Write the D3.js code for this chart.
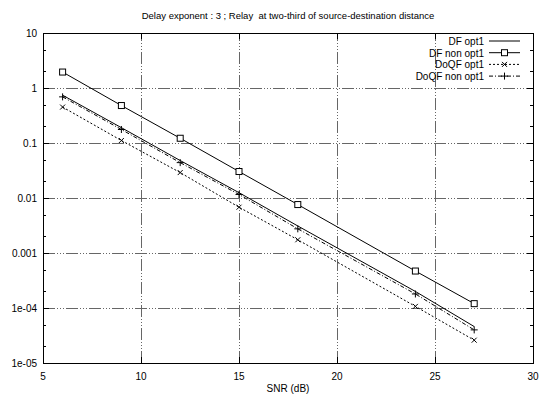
<!DOCTYPE html>
<html>
<head>
<meta charset="utf-8">
<script src="https://cdn.jsdelivr.net/npm/d3@7"></script>
<style>
  body { margin: 0; background: #fff; }
  text { font-family: "Liberation Sans", Arial, sans-serif; fill: #000; }
</style>
</head>
<body>
<div id="chart"></div>
<script>
// values
const snr = [6, 9, 12, 15, 18, 24, 27];
const dfOpt = [0.74, 0.19, 0.048, 0.0125, 0.0031, 0.0002, 0.000046];
const dfNonOpt = [1.95, 0.48, 0.122, 0.0303, 0.0076, 0.00047, 0.00012];
const doqfOpt = [0.45, 0.111, 0.029, 0.0068, 0.00174, 0.000107, 0.000026];
const doqfNonOpt = [0.69, 0.176, 0.044, 0.0116, 0.00275, 0.00018, 0.00004];

const xTicks = [5, 10, 15, 20, 25, 30];
const yTicks = [10, 1, 0.1, 0.01, 0.001, 1e-4, 1e-5];
const yTickLabels = ['10', '1', '0.1', '0.01', '0.001', '1e-04', '1e-05'];
const seriesNames = ['DF opt1', 'DF non opt1', 'DoQF opt1', 'DoQF non opt1'];

const width = 540;
const height = 397;
const margin = { top: 33, right: 7, bottom: 34, left: 43 };

const series = [
  { name: seriesNames[0], values: dfOpt, dash: null, marker: null },
  { name: seriesNames[1], values: dfNonOpt, dash: null, marker: 'square' },
  { name: seriesNames[2], values: doqfOpt, dash: '2,2', marker: 'cross' },
  { name: seriesNames[3], values: doqfNonOpt, dash: '4,2,1,2', marker: 'plus' }
];

const svg = d3.select('#chart').append('svg')
  .attr('width', width)
  .attr('height', height);

const x = d3.scaleLinear()
  .domain([5, 30])
  .range([margin.left, width - margin.right]);

const y = d3.scaleLog()
  .domain([1e-5, 10])
  .range([height - margin.bottom, margin.top]);

const x0 = margin.left;
const x1 = width - margin.right;
const y0 = height - margin.bottom;
const y1 = margin.top;

// grid
const gridDash = '12,2,1,2,1,2,1,2';
svg.append('g').selectAll('line')
  .data(yTicks.slice(1, -1))
  .enter()
  .append('line')
  .attr('x1', x0).attr('x2', x1)
  .attr('y1', d => Math.round(y(d)) + 0.5).attr('y2', d => Math.round(y(d)) + 0.5)
  .attr('stroke', '#666')
  .attr('stroke-width', 1)
  .attr('stroke-dasharray', gridDash);

svg.append('g').selectAll('line')
  .data(xTicks.slice(1, -1))
  .enter()
  .append('line')
  .attr('x1', d => Math.round(x(d)) + 0.5).attr('x2', d => Math.round(x(d)) + 0.5)
  .attr('y1', y0).attr('y2', y1)
  .attr('stroke', '#666')
  .attr('stroke-width', 1)
  .attr('stroke-dasharray', gridDash);

// minor ticks on y (2 and 5 of each decade), both sides
const minorTicks = [];
for (let e = -5; e < 1; e++) {
  minorTicks.push(2 * Math.pow(10, e));
  minorTicks.push(5 * Math.pow(10, e));
}
const ticksG = svg.append('g').attr('stroke', '#000').attr('stroke-width', 1);
minorTicks.forEach((t) => {
  const yy = Math.round(y(t)) + 0.5;
  ticksG.append('line').attr('x1', x0).attr('x2', x0 + 3).attr('y1', yy).attr('y2', yy);
  ticksG.append('line').attr('x1', x1).attr('x2', x1 - 3).attr('y1', yy).attr('y2', yy);
});
yTicks.forEach((t) => {
  const yy = Math.round(y(t)) + 0.5;
  ticksG.append('line').attr('x1', x0).attr('x2', x0 + 6).attr('y1', yy).attr('y2', yy);
  ticksG.append('line').attr('x1', x1).attr('x2', x1 - 6).attr('y1', yy).attr('y2', yy);
});
xTicks.forEach((t) => {
  const xx = Math.round(x(t)) + 0.5;
  ticksG.append('line').attr('x1', xx).attr('x2', xx).attr('y1', y0).attr('y2', y0 - 6);
  ticksG.append('line').attr('x1', xx).attr('x2', xx).attr('y1', y1).attr('y2', y1 + 6);
});

// frame
svg.append('rect')
  .attr('x', x0 + 0.5).attr('y', y1 + 0.5)
  .attr('width', x1 - x0).attr('height', y0 - y1)
  .attr('fill', 'none')
  .attr('stroke', '#000')
  .attr('stroke-width', 1);

// tick labels
svg.append('g').selectAll('text')
  .data(yTicks)
  .enter()
  .append('text')
  .attr('x', 37)
  .attr('y', d => y(d) + 4)
  .attr('text-anchor', 'end')
  .style('font-size', '10px')
  .text((d, i) => yTickLabels[i]);

svg.append('g').selectAll('text')
  .data(xTicks)
  .enter()
  .append('text')
  .attr('x', d => x(d))
  .attr('y', y0 + 17)
  .attr('text-anchor', 'middle')
  .style('font-size', '10px')
  .text(d => d);

svg.append('text')
  .attr('x', (x0 + x1) / 2)
  .attr('y', height - 5)
  .attr('text-anchor', 'middle')
  .style('font-size', '10px')
  .text('SNR (dB)');

svg.append('text')
  .attr('x', (x0 + x1) / 2)
  .attr('y', 19)
  .attr('text-anchor', 'middle')
  .style('font-size', '9.5px')
  .style('white-space', 'pre')
  .text('Delay exponent : 3 ; Relay  at two-third of source-destination distance');

// markers
const drawMarker = function (g, kind, cx, cy) {
  if (kind === 'square') {
    g.append('rect')
      .attr('x', cx - 3).attr('y', cy - 3)
      .attr('width', 6).attr('height', 6)
      .attr('fill', '#fff')
      .attr('stroke', '#000');
  } else if (kind === 'cross') {
    g.append('path')
      .attr('d', `M${cx - 2.5},${cy - 2.5}L${cx + 2.5},${cy + 2.5}M${cx - 2.5},${cy + 2.5}L${cx + 2.5},${cy - 2.5}`)
      .attr('stroke', '#000');
  } else if (kind === 'plus') {
    g.append('path')
      .attr('d', `M${cx - 3.5},${cy}L${cx + 3.5},${cy}M${cx},${cy - 3.5}L${cx},${cy + 3.5}`)
      .attr('stroke', '#000');
  }
};

const line = d3.line()
  .x(d => x(d[0]))
  .y(d => y(d[1]));

series.forEach((s) => {
  const pts = snr.map((v, i) => [v, s.values[i]]);
  const g = svg.append('g');
  g.append('path')
    .datum(pts)
    .attr('d', line)
    .attr('fill', 'none')
    .attr('stroke', '#000')
    .attr('stroke-width', 1)
    .attr('stroke-dasharray', s.dash);
  if (s.marker) {
    pts.forEach((p) => drawMarker(g, s.marker, x(p[0]), y(p[1])));
  }
});

// legend
const legend = svg.append('g');
series.forEach((s, i) => {
  const ly = 41 + i * 11.7;
  legend.append('text')
    .attr('x', 484)
    .attr('y', ly + 4)
    .attr('text-anchor', 'end')
    .style('font-size', '10px')
    .text(s.name);
  legend.append('line')
    .attr('x1', 489).attr('x2', 520)
    .attr('y1', ly).attr('y2', ly)
    .attr('stroke', '#000')
    .attr('stroke-width', 1)
    .attr('stroke-dasharray', s.dash);
  if (s.marker) {
    drawMarker(legend, s.marker, 504.5, ly);
  }
});
</script>
</body>
</html>
